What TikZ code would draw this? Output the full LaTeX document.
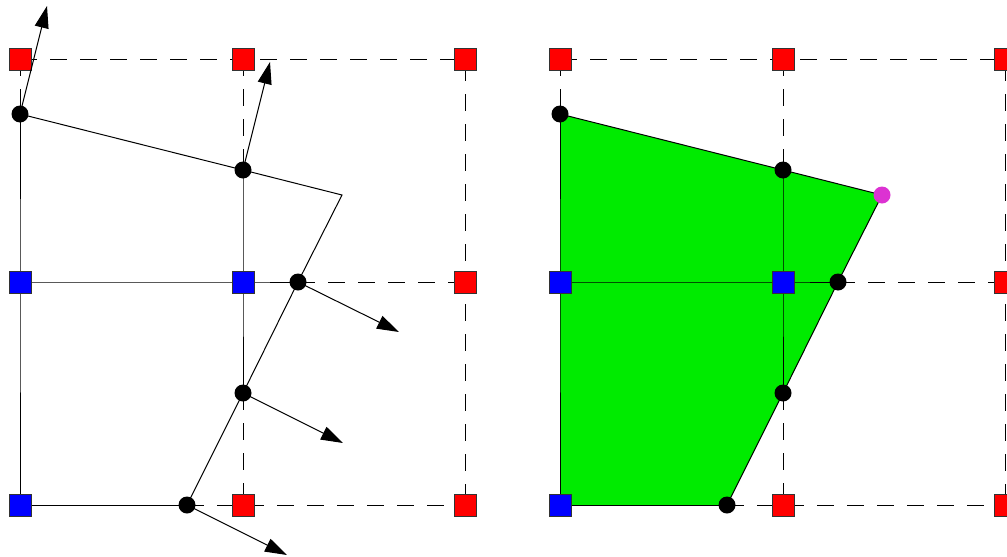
\documentclass[tikz,border=0pt]{standalone}
\usetikzlibrary{arrows.meta,backgrounds}
\definecolor{gfill}{RGB}{0,235,0}
\definecolor{mag}{RGB}{220,50,210}
\tikzset{
  redsq/.style={rectangle,draw=black!80,line width=0.9pt,fill=red,minimum size=22pt,inner sep=0pt},
  bluesq/.style={rectangle,draw=black!80,line width=0.9pt,fill=blue,minimum size=22pt,inner sep=0pt},
  dot/.style={circle,fill=black,minimum size=17pt,inner sep=0pt},
  magdot/.style={circle,fill=mag,minimum size=17pt,inner sep=0pt},
  gridd/.style={line width=1pt,dash pattern=on 17pt off 13pt},
  solidl/.style={line width=1pt},
  normal/.style={line width=1pt,-{Triangle[length=22pt,width=14pt]}},
}
\begin{document}
\begin{tikzpicture}[x=1pt,y=-1pt]
\useasboundingbox (0,0) rectangle (1007,557);
% ---------- left panel ----------
\node[redsq]  (L11) at (20,59) {};
\node[redsq]  (L21) at (243,59) {};
\node[redsq]  (L31) at (465,59) {};
\node[bluesq] (L12) at (20,282) {};
\node[bluesq] (L22) at (243,282) {};
\node[redsq]  (L32) at (465,282) {};
\node[bluesq] (L13) at (20,505) {};
\node[redsq]  (L23) at (243,505) {};
\node[redsq]  (L33) at (465,505) {};
\node[dot] (La) at (20,114) {};
\node[dot] (Lb) at (243,170) {};
\coordinate (Lk) at (342,195);
\node[dot] (Lc) at (298,282) {};
\node[dot] (Ld) at (243,393) {};
\node[dot] (Le) at (187,505) {};
\coordinate (Lna) at (47,6);
\coordinate (Lnb) at (270,62);
\coordinate (Lnc) at (399,332);
\coordinate (Lnd) at (343,443);
\coordinate (Lne) at (287,555);
% ---------- right panel ----------
\node[redsq]  (R11) at (560,59) {};
\node[redsq]  (R21) at (783,59) {};
\node[redsq]  (R31) at (1005,59) {};
\node[bluesq] (R12) at (560,282) {};
\node[bluesq] (R22) at (783,282) {};
\node[redsq]  (R32) at (1005,282) {};
\node[bluesq] (R13) at (560,505) {};
\node[redsq]  (R23) at (783,505) {};
\node[redsq]  (R33) at (1005,505) {};
\node[dot] (Ra) at (560,114) {};
\node[dot] (Rb) at (783,170) {};
\node[magdot] (Rk) at (882,195) {};
\node[dot] (Rc) at (838,282) {};
\node[dot] (Rd) at (783,393) {};
\node[dot] (Re) at (727,505) {};
\begin{scope}[on background layer]
  % left grid
  \draw[gridd] (L11.center) -- (L31.center) -- (L33.center);
  \draw[gridd] (L11.center) -- (La.center);
  \draw[gridd] (L21.center) -- (Lb.center);
  \draw[gridd] (Ld.center) -- (L23.center);
  \draw[gridd] (Lc.center) -- (L32.center);
  \draw[gridd] (Le.center) -- (L23.center) -- (L33.center);
  \draw[solidl] (La.center) -- (L12.center) -- (L13.center) -- (Le.center);
  \draw[solidl] (Lb.center) -- (L22.center) -- (Ld.center);
  \draw[solidl] (L12.center) -- (L22.center) -- (Lc.center);
  \draw[solidl] (La.center) -- (Lb.center) -- (Lk) -- (Lc.center) -- (Ld.center) -- (Le.center);
  % right fill and grid
  \fill[gfill] (Ra.center) -- (Rb.center) -- (Rk.center) -- (Rc.center) -- (Rd.center) -- (Re.center) -- (R13.center) -- cycle;
  \draw[gridd] (R11.center) -- (R31.center) -- (R33.center);
  \draw[gridd] (R11.center) -- (Ra.center);
  \draw[gridd] (R21.center) -- (Rb.center);
  \draw[gridd] (Rd.center) -- (R23.center);
  \draw[gridd] (Rc.center) -- (R32.center);
  \draw[gridd] (Re.center) -- (R23.center) -- (R33.center);
  \draw[solidl] (Ra.center) -- (R12.center) -- (R13.center) -- (Re.center);
  \draw[solidl] (Rb.center) -- (R22.center) -- (Rd.center);
  \draw[solidl] (R12.center) -- (R22.center) -- (Rc.center);
  \draw[solidl] (Ra.center) -- (Rb.center) -- (Rk.center) -- (Rc.center) -- (Rd.center) -- (Re.center);
\end{scope}
% normals
\draw[normal] (La.center) -- (Lna);
\draw[normal] (Lb.center) -- (Lnb);
\draw[normal] (Lc.center) -- (Lnc);
\draw[normal] (Ld.center) -- (Lnd);
\draw[normal] (Le.center) -- (Lne);
\end{tikzpicture}
\end{document}
